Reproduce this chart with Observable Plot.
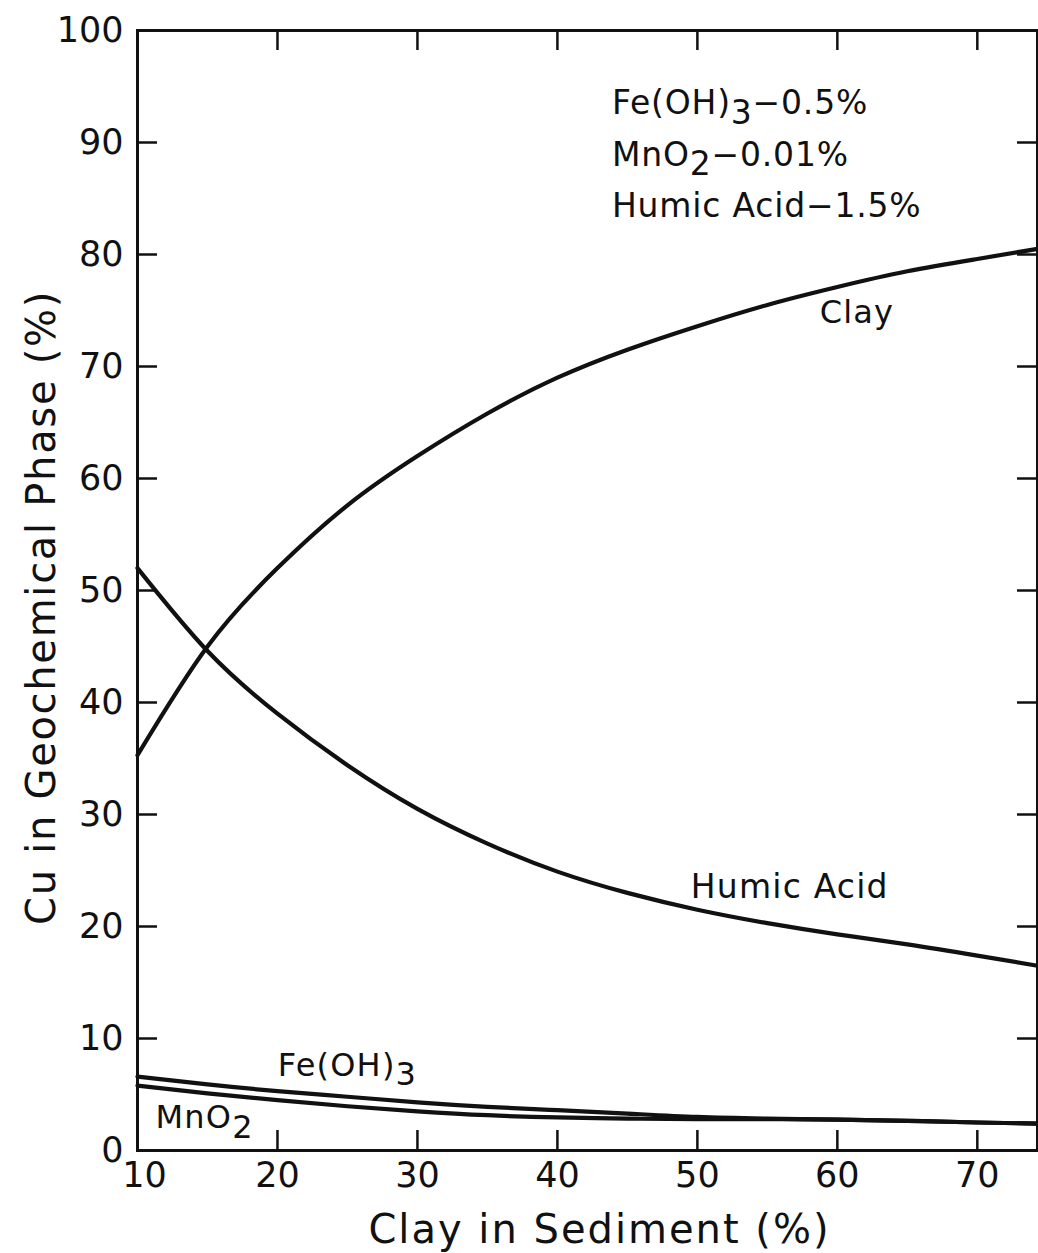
<!DOCTYPE html>
<html>
<head>
<meta charset="utf-8">
<script src="https://cdn.jsdelivr.net/npm/d3@7"></script>
<script src="https://cdn.jsdelivr.net/npm/@observablehq/plot@0.6"></script>
<style>
  body { margin: 0; background: #fff; }
  #chart svg { display: block; }
</style>
</head>
<body>
<div id="chart"></div>
<script>
// Clay content of the sediment (%), sampled along the x axis
const clayInSediment = [10, 15, 20, 25, 30, 35, 40, 45, 50, 55, 60, 65, 70, 74.3];

// Share of Cu held by each geochemical phase (%)
const cuClay      = [35.3, 45.0, 52.0, 57.6, 62.0, 65.8, 69.0, 71.5, 73.6, 75.5, 77.1, 78.5, 79.6, 80.5];
const cuHumicAcid = [52.0, 44.6, 39.0, 34.4, 30.5, 27.4, 24.9, 23.0, 21.5, 20.3, 19.3, 18.4, 17.4, 16.5];
const cuFeOH3     = [6.6, 5.9, 5.3, 4.8, 4.3, 3.9, 3.6, 3.3, 3.0, 2.85, 2.75, 2.65, 2.5, 2.4];
const cuMnO2      = [5.8, 5.1, 4.5, 3.95, 3.5, 3.15, 2.95, 2.85, 2.8, 2.8, 2.75, 2.65, 2.5, 2.4];

const seriesNames = ["Clay", "Humic Acid", "Fe(OH)₃", "MnO₂"];
const seriesValues = [cuClay, cuHumicAcid, cuFeOH3, cuMnO2];

// Tick values
const xTicks = [20, 30, 40, 50, 60, 70];
const xFirstTick = [10];
const yTicks = [0, 10, 20, 30, 40, 50, 60, 70, 80, 90, 100];
const xInnerTicks = [20, 30, 40, 50, 60, 70];
const yInnerTicks = [10, 20, 30, 40, 50, 60, 70, 80, 90];

const composition = ["Fe(OH)₃−0.5%", "MnO₂−0.01%", "Humic Acid−1.5%"];
const xTitle = "Clay in Sediment (%)";
const yTitle = "Cu in Geochemical Phase (%)";

const rows = seriesNames.flatMap((name, s) =>
  clayInSediment.map((x, i) => ({ name, x, y: seriesValues[s][i] }))
);

const W = 1038, H = 1253;
const mL = 137, mR = 1, mT = 30, mB = 103;
const innerW = W - mL - mR, innerH = H - mT - mB;
const tickLen = 20;
const ink = "#111";
const font = "DejaVu Sans";

const chart = Plot.plot({
  width: W,
  height: H,
  marginLeft: mL,
  marginRight: mR,
  marginTop: mT,
  marginBottom: mB,
  style: { fontFamily: font, fontSize: "35px", color: ink, background: "#fff" },
  x: { domain: [10, 74.3] },
  y: { domain: [0, 100] },
  marks: [
    Plot.axisX({ ticks: xTicks, tickSize: 0, tickPadding: 12, label: null, fontSize: 35, tickFormat: d => d }),
    Plot.axisX({ ticks: xFirstTick, tickSize: 0, tickPadding: 12, label: null, fontSize: 35, tickFormat: d => d, dx: 7 }),
    Plot.axisY({ ticks: yTicks, tickSize: 0, tickPadding: 14, label: null, fontSize: 35, tickFormat: d => d }),

    // inward tick marks on all four sides
    Plot.ruleX(xInnerTicks, { stroke: ink, strokeWidth: 2.5, insetTop: innerH - tickLen }),
    Plot.ruleX(xInnerTicks, { stroke: ink, strokeWidth: 2.5, insetBottom: innerH - tickLen }),
    Plot.ruleY(yInnerTicks, { stroke: ink, strokeWidth: 2.5, insetRight: innerW - tickLen }),
    Plot.ruleY(yInnerTicks, { stroke: ink, strokeWidth: 2.5, insetLeft: innerW - tickLen }),

    Plot.frame({ stroke: ink, strokeWidth: 3 }),

    Plot.line(rows, { x: "x", y: "y", z: "name", stroke: ink, strokeWidth: 4.2, curve: "natural" }),

    // curve labels
    Plot.text(["Clay"], { x: 61.4, y: 74.8, text: d => d, fontSize: 32, fill: ink }),
    Plot.text(["Humic Acid"], { x: 56.6, y: 23.5, text: d => d, fontSize: 33, fill: ink }),
    Plot.text(["Fe(OH)₃"], { x: 25.0, y: 7.6, text: d => d, fontSize: 32, fill: ink }),
    Plot.text(["MnO₂"], { x: 14.8, y: 2.9, text: d => d, fontSize: 32, fill: ink }),

    // sediment composition note
    Plot.text([composition.join("\n")], {
      x: 43.9, y: 93.7, text: d => d, textAnchor: "start", lineAnchor: "top",
      lineHeight: 1.55, fontSize: 33, fill: ink, dy: -23
    }),

    // axis titles
    Plot.text([xTitle], {
      frameAnchor: "bottom", text: d => d, dx: 12, dy: 92, fontSize: 40, fill: ink
    }),
    Plot.text([yTitle], {
      frameAnchor: "left", textAnchor: "middle", text: d => d, rotate: -90, dx: -95, dy: 17,
      fontSize: 40, fill: ink
    })
  ]
});

// Letter spacing for the wide lettering of titles and labels
const spacing = new Map([
  [xTitle, "2px"],
  [yTitle, "1.7px"],
  [composition.join(""), "0.8px"],
  ...seriesNames.map(n => [n, "1.2px"])
]);
chart.querySelectorAll("text").forEach(el => {
  const ls = spacing.get(el.textContent);
  if (ls) el.style.letterSpacing = ls;
});

// Render chemical-formula subscripts as lowered full-size digits
const subDigits = { "₀": "0", "₁": "1", "₂": "2", "₃": "3", "₄": "4", "₅": "5", "₆": "6", "₇": "7", "₈": "8", "₉": "9" };
const svgNS = "http://www.w3.org/2000/svg";
chart.querySelectorAll("text, tspan").forEach(el => {
  if (el.children.length) return;
  const s = el.textContent;
  if (!/[₀-₉]/.test(s)) return;
  const parts = s.split(/([₀-₉]+)/).filter(p => p !== "");
  el.textContent = "";
  let lowered = false;
  parts.forEach(p => {
    const t = document.createElementNS(svgNS, "tspan");
    if (/^[₀-₉]+$/.test(p)) {
      t.textContent = p.replace(/[₀-₉]/g, c => subDigits[c]);
      t.setAttribute("dy", "0.3em");
      lowered = true;
    } else {
      t.textContent = p;
      if (lowered) { t.setAttribute("dy", "-0.3em"); lowered = false; }
    }
    el.appendChild(t);
  });
});

document.getElementById("chart").append(chart);
</script>
</body>
</html>
